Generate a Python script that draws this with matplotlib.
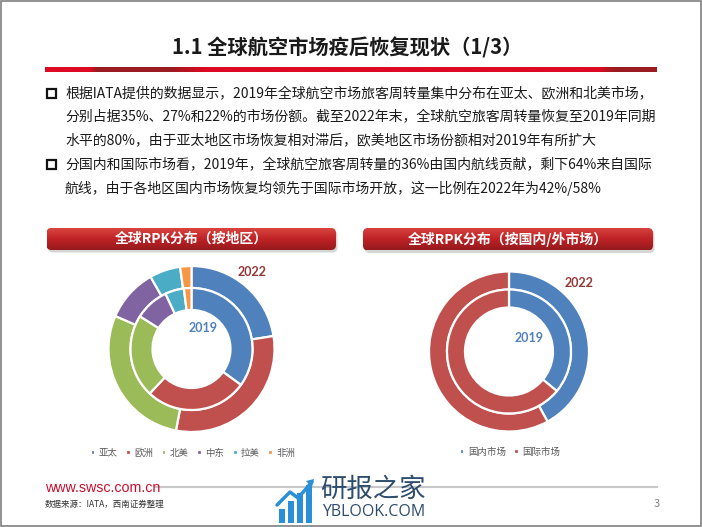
import numpy as np
import matplotlib
matplotlib.use("Agg")
import matplotlib.pyplot as plt
from matplotlib.patches import Rectangle, FancyBboxPatch, Polygon
from matplotlib.colors import to_rgb

plt.rcParams['font.family'] = ['Noto Sans CJK SC', 'DejaVu Sans']

# ---------------- data ----------------
regions = ['亚太', '欧洲', '北美', '中东', '拉美', '非洲']
rpk_2019 = [35, 27, 22, 9, 5, 2]
rpk_2022 = [22.5, 30.5, 28.5, 10.3, 6.0, 2.2]
region_colors = ['#4F81BD', '#C0504D', '#9BBB59', '#8064A2', '#4BACC6', '#F79646']

markets = ['国内市场', '国际市场']
market_2019 = [36, 64]
market_2022 = [42, 58]
market_colors = ['#4F81BD', '#C0504D']

title = '1.1 全球航空市场疫后恢复现状（1/3）'
bullet1 = ['根据IATA提供的数据显示，2019年全球航空市场旅客周转量集中分布在亚太、欧洲和北美市场，',
           '分别占据35%、27%和22%的市场份额。截至2022年末，全球航空旅客周转量恢复至2019年同期',
           '水平的80%，由于亚太地区市场恢复相对滞后，欧美地区市场份额相对2019年有所扩大']
bullet2 = ['分国内和国际市场看，2019年，全球航空旅客周转量的36%由国内航线贡献，剩下64%来自国际',
           '航线，由于各地区国内市场恢复均领先于国际市场开放，这一比例在2022年为42%/58%']
chart1_title = '全球RPK分布（按地区）'
chart2_title = '全球RPK分布（按国内/外市场）'

W, H = 702, 527
fig = plt.figure(figsize=(W / 100, H / 100), dpi=100)
fig.patch.set_facecolor('white')

bg = fig.add_axes([0, 0, 1, 1])
bg.set_xlim(0, W)
bg.set_ylim(H, 0)
bg.axis('off')

# page frame
bg.add_patch(Rectangle((0.5, 0.5), W - 1.5, H - 2, fill=False, ec='#7F7F7F', lw=1.2))

# title
bg.text(347, 48, title, ha='center', va='center', fontsize=14.6, fontweight='bold', color='#1A1A1A')

# red gradient rule
xs = np.linspace(45, 657, 600)
red = np.array(to_rgb('#DC0A22'))
dark = np.array(to_rgb('#9A1C20'))
w = np.zeros_like(xs)
w = np.where((xs > 97) & (xs <= 170), 1.0, w)
w = np.where((xs > 90) & (xs <= 97), (xs - 90) / 7, w)
w = np.where((xs > 170) & (xs <= 205), 1 - (xs - 170) / 35, w)
w = np.where((xs > 600) & (xs <= 615), (xs - 600) / 15, w)
w = np.where(xs > 615, 1.0, w)
img = red[None, :] * (1 - w[:, None]) + dark[None, :] * w[:, None]
bg.imshow(img[None, :, :], extent=[45, 657, 72, 67], aspect='auto', zorder=2)

# bullets
def bullet(y):
    bg.add_patch(Rectangle((46.5, y - 4.5), 9, 9, fill=False, ec='#111111', lw=1.6))

line_y1 = [93, 116.5, 140]
line_y2 = [164, 188]
bullet(line_y1[0])
bullet(line_y2[0])
for y, s in zip(line_y1, bullet1):
    bg.text(65, y, s, ha='left', va='center', fontsize=10.0, color='#1A1A1A')
for y, s in zip(line_y2, bullet2):
    bg.text(65, y, s, ha='left', va='center', fontsize=10.0, color='#1A1A1A')

# header bars with vertical gradient
def header(x0, x1, y0, y1, text):
    shadow = FancyBboxPatch((x0 + 1.5, y0 + 2.5), x1 - x0, y1 - y0,
                            boxstyle='round,pad=0,rounding_size=5', fc='#BBBBBB', ec='none', zorder=2, alpha=0.6)
    bg.add_patch(shadow)
    patch = FancyBboxPatch((x0, y0), x1 - x0, y1 - y0,
                           boxstyle='round,pad=0,rounding_size=5', fc='none', ec='none', zorder=3)
    bg.add_patch(patch)
    t = np.linspace(0, 1, 50)
    top = np.array(to_rgb('#D8453F'))
    mid = np.array(to_rgb('#C02226'))
    bot = np.array(to_rgb('#951A1C'))
    cols = np.where(t[:, None] < 0.5, top + (mid - top) * (t[:, None] / 0.5),
                    mid + (bot - mid) * ((t[:, None] - 0.5) / 0.5))
    im = bg.imshow(cols[:, None, :], extent=[x0, x1, y1, y0], aspect='auto', zorder=3)
    im.set_clip_path(patch)
    bg.text((x0 + x1) / 2, (y0 + y1) / 2, text, ha='center', va='center', fontsize=10,
            fontweight='bold', color='white', zorder=4)

header(46.5, 336, 228, 250, chart1_title)
header(363, 653, 228, 250.5, chart2_title)

# donuts
def donut_axes(cx, cy, half=100):
    ax = fig.add_axes([(cx - half) / W, 1 - (cy + half) / H, 2 * half / W, 2 * half / H])
    ax.set_xlim(-half, half)
    ax.set_ylim(-half, half)
    ax.set_aspect('equal')
    ax.axis('off')
    return ax

ax1 = donut_axes(191.5, 349)
wedges, _ = ax1.pie(rpk_2022, radius=83, colors=region_colors, startangle=90, counterclock=False,
                    wedgeprops=dict(width=22, edgecolor='white', linewidth=1.6))
ax1.pie(rpk_2019, radius=61, colors=region_colors, startangle=90, counterclock=False,
        wedgeprops=dict(width=22, edgecolor='white', linewidth=1.6))
ax1.set_xlim(-100, 100)
ax1.set_ylim(-100, 100)

ax2 = donut_axes(509, 351.5)
wedges2, _ = ax2.pie(market_2022, radius=80, colors=market_colors, startangle=90, counterclock=False,
                     wedgeprops=dict(width=18, edgecolor='white', linewidth=1.6))
ax2.pie(market_2019, radius=62, colors=market_colors, startangle=90, counterclock=False,
        wedgeprops=dict(width=18, edgecolor='white', linewidth=1.6))
ax2.set_xlim(-100, 100)
ax2.set_ylim(-100, 100)

# year labels
bg.text(252.5, 272, '2022', ha='center', va='center', fontsize=9, fontweight='bold', color='#953735', family='Lato', zorder=5)
bg.text(203, 328, '2019', ha='center', va='center', fontsize=9, fontweight='bold', color='#4F81BD', family='Lato', zorder=5)
bg.text(579, 283, '2022', ha='center', va='center', fontsize=9, fontweight='bold', color='#953735', family='Lato', zorder=5)
bg.text(529, 338, '2019', ha='center', va='center', fontsize=9, fontweight='bold', color='#4F81BD', family='Lato', zorder=5)

# legends
leg1 = bg.legend(wedges, regions, loc='center', bbox_to_anchor=(193, 453), bbox_transform=bg.transData,
                 ncol=6, frameon=False, fontsize=6.8, handlelength=0.5, handleheight=0.5,
                 columnspacing=0.9, handletextpad=0.35, labelcolor='#595959', borderpad=0)
bg.add_artist(leg1)
leg2 = bg.legend(wedges2, markets, loc='center', bbox_to_anchor=(510, 452), bbox_transform=bg.transData,
                 ncol=2, frameon=False, fontsize=6.8, handlelength=0.5, handleheight=0.5,
                 columnspacing=0.9, handletextpad=0.35, labelcolor='#595959', borderpad=0)

# footer
bg.text(45, 488, 'www.swsc.com.cn', ha='left', va='center', fontsize=10.3, color='#C8102E', family='Liberation Sans')
bg.plot([155, 657], [487, 487], color='#C8C8C8', lw=1.5)
bg.text(45, 504, '数据来源：IATA，西南证券整理', ha='left', va='center', fontsize=6.1, color='#333333', style='italic')
bg.text(657, 504, '3', ha='center', va='center', fontsize=8, color='#7F7F7F')

# watermark
bar_x = [279, 288, 297, 306]
bar_h = [14, 22, 30, 38]
for bx, bh in zip(bar_x, bar_h):
    bg.add_patch(Rectangle((bx, 523 - bh), 6, bh, fc='#2A8FD6', ec='none', zorder=6))
bg.plot([277, 290, 298, 312], [505, 492, 498, 482], color='#2A8FD6', lw=2.5, zorder=6, solid_capstyle='round')
bg.add_patch(Polygon([[314, 479], [306, 481], [312, 487]], closed=True, fc='#2A8FD6', ec='none', zorder=6))
bg.text(320, 489, '研报之家', ha='left', va='center', fontsize=19, color='#2E4C6D', zorder=6)
bg.text(322, 512, 'YBLOOK.COM', ha='left', va='center', fontsize=11.5, color='#2E4C6D', zorder=6, family='Open Sans')

fig.savefig('out.png', dpi=100, facecolor='white')
